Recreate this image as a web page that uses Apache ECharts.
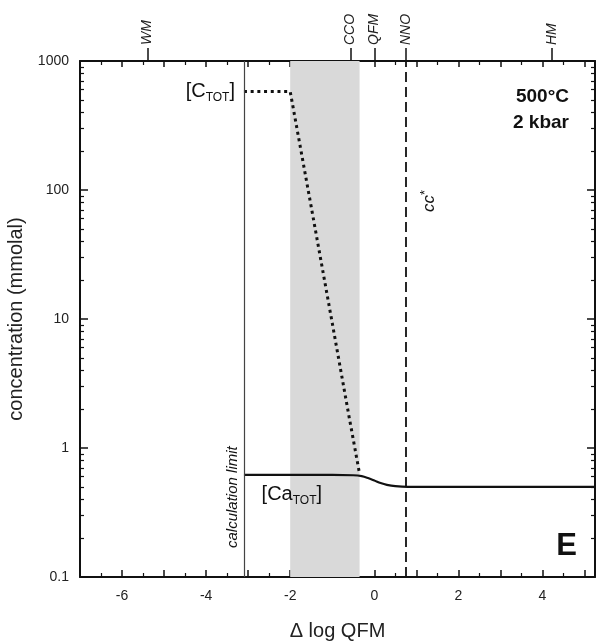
<!DOCTYPE html>
<html>
<head>
<meta charset="utf-8">
<style>
  html, body { margin: 0; padding: 0; background: #fff; }
  #chart { width: 596px; height: 643px; }
</style>
<script src="https://cdn.jsdelivr.net/npm/echarts@6/dist/echarts.min.js"></script>
</head>
<body>
<div id="chart"></div>
<script>
// axis ranges and reference lines (delta log QFM)
var xMin = -7
var xMax = 5.25
var calcLimit = -3.1
var nnoLine = 0.75
var shadeBand = [-2.0, -0.35]

// buffers marked on the top axis
var redoxNames = ['WM', 'CCO', 'QFM', 'NNO', 'HM']
var redoxX = [-5.4, -0.57, 0, 0.75, 4.23]

// log axis minor ticks
var yMinorTicks = [0.2, 0.3, 0.4, 0.5, 0.6, 0.7, 0.8, 0.9,
  2, 3, 4, 5, 6, 7, 8, 9,
  20, 30, 40, 50, 60, 70, 80, 90,
  200, 300, 400, 500, 600, 700, 800, 900]

// [C_TOT] (dotted) and [Ca_TOT] (solid), mmolal
var cTot = [[-3.1, 580], [-2.0, 580], [-1.5, 74], [-1.0, 9.3], [-0.6, 1.75], [-0.45, 0.95], [-0.35, 0.63]]
var caTot = [[-3.1, 0.62], [-1.0, 0.62], [-0.5, 0.615], [-0.3, 0.605], [-0.15, 0.585], [0.0, 0.56],
  [0.15, 0.535], [0.3, 0.518], [0.5, 0.506], [0.8, 0.5], [5.25, 0.5]]

var font = 'Liberation Sans'
var ink = '#111'

var chart = echarts.init(document.getElementById('chart'))

var option = {
  animation: false,
  backgroundColor: '#fff',
  textStyle: { fontFamily: font },
  grid: { left: 80, right: 1, top: 61, bottom: 66, outerBoundsMode: 'none' },
  xAxis: [
    {
      type: 'value', position: 'bottom', min: xMin, max: xMax, interval: 1,
      name: 'Δ log QFM', nameLocation: 'middle', nameGap: 44,
      nameTextStyle: { fontSize: 20, color: '#222' },
      axisLine: { onZero: false, lineStyle: { color: ink, width: 2 } },
      axisTick: { inside: true, length: 7, lineStyle: { color: ink, width: 1.5 } },
      minorTick: { show: true, splitNumber: 2, length: 4, lineStyle: { color: ink, width: 1.2 } },
      axisLabel: {
        fontSize: 14, color: '#222', margin: 12,
        formatter: function (v) { return v % 2 === 0 ? String(v) : '' }
      },
      splitLine: { show: false }
    },
    {
      type: 'value', position: 'top', min: xMin, max: xMax, interval: 1,
      axisLine: { onZero: false, lineStyle: { color: ink, width: 2 } },
      axisTick: { inside: true, length: 6, lineStyle: { color: ink, width: 1.5 } },
      minorTick: { show: true, splitNumber: 2, length: 4, lineStyle: { color: ink, width: 1.2 } },
      axisLabel: { show: false },
      splitLine: { show: false }
    },
    {
      type: 'value', position: 'top', min: xMin, max: xMax,
      axisLine: { show: false, onZero: false },
      axisTick: { customValues: redoxX, inside: false, length: 13, lineStyle: { color: ink, width: 1.5 } },
      axisLabel: {
        customValues: redoxX, rotate: -90, margin: 16, fontSize: 14, fontStyle: 'italic', color: '#222',
        formatter: function (v) {
          var i = redoxX.indexOf(v)
          return i >= 0 ? redoxNames[i] : ''
        }
      },
      splitLine: { show: false }
    }
  ],
  yAxis: [
    {
      type: 'log', logBase: 10, min: 0.1, max: 1000, position: 'left',
      name: 'concentration (mmolal)', nameLocation: 'middle', nameGap: 43,
      nameTextStyle: { fontSize: 20, color: '#222' },
      axisLine: { onZero: false, lineStyle: { color: ink, width: 2 } },
      axisTick: { inside: true, length: 8, lineStyle: { color: ink, width: 1.5 } },
      axisLabel: { fontSize: 14, color: '#222', margin: 11, formatter: function (v) { return String(v) } },
      splitLine: { show: false }
    },
    {
      type: 'log', logBase: 10, min: 0.1, max: 1000, position: 'left',
      axisLine: { show: false, onZero: false },
      axisTick: { customValues: yMinorTicks, inside: true, length: 4, lineStyle: { color: ink, width: 1.2 } },
      axisLabel: { show: false },
      splitLine: { show: false }
    },
    {
      type: 'log', logBase: 10, min: 0.1, max: 1000, position: 'right',
      axisLine: { onZero: false, lineStyle: { color: ink, width: 2 } },
      axisTick: { inside: true, length: 8, lineStyle: { color: ink, width: 1.5 } },
      axisLabel: { show: false },
      splitLine: { show: false }
    },
    {
      type: 'log', logBase: 10, min: 0.1, max: 1000, position: 'right',
      axisLine: { show: false, onZero: false },
      axisTick: { customValues: yMinorTicks, inside: true, length: 4, lineStyle: { color: ink, width: 1.2 } },
      axisLabel: { show: false },
      splitLine: { show: false }
    }
  ],
  series: [
    {
      type: 'line', data: [], z: 1, silent: true,
      markArea: {
        silent: true,
        itemStyle: { color: '#d9d9d9' },
        data: [[{ xAxis: shadeBand[0] }, { xAxis: shadeBand[1] }]]
      },
      markLine: {
        silent: true, symbol: ['none', 'none'], label: { show: false },
        data: [
          { xAxis: calcLimit, lineStyle: { type: 'solid', width: 1.2, color: '#444' } },
          { xAxis: nnoLine, lineStyle: { type: [10, 5], width: 1.8, color: ink } }
        ]
      }
    },
    {
      name: 'C_TOT', type: 'line', data: cTot, z: 3, symbol: 'none', smooth: false,
      lineStyle: { color: ink, width: 3, type: [3, 3.7], cap: 'butt' }
    },
    {
      name: 'Ca_TOT', type: 'line', data: caTot, z: 3, symbol: 'none', smooth: 0.3,
      lineStyle: { color: ink, width: 2.2 }
    }
  ]
}

chart.setOption(option)

function px(x, y) {
  return chart.convertToPixel({ xAxisIndex: 0, yAxisIndex: 0 }, [x, y])
}

var pC = px(calcLimit, cTot[0][1])
var pCa = px(-2.68, caTot[0][1])
var pBottom = px(calcLimit, 0.1)
var pNno = px(nnoLine, 1000)
var subRich = function (size) {
  return {
    m: { fontSize: size, lineHeight: 24, fontFamily: font, fill: ink },
    s: { fontSize: 12, lineHeight: 10, verticalAlign: 'bottom', fontFamily: font, fill: ink }
  }
}

chart.setOption({
  graphic: [
    {
      type: 'text', x: pC[0] - 9, y: pC[1], z: 10,
      style: { text: '{m|[C}{s|TOT}{m|]}', rich: subRich(20), align: 'right', verticalAlign: 'middle' }
    },
    {
      type: 'text', x: pCa[0], y: pCa[1] + 20, z: 10,
      style: { text: '{m|[Ca}{s|TOT}{m|]}', rich: subRich(20), align: 'left', verticalAlign: 'middle' }
    },
    {
      type: 'text', x: pBottom[0] - 11, y: pBottom[1] - 29, rotation: Math.PI / 2, z: 10,
      style: {
        text: 'calculation limit', fontSize: 15, fontStyle: 'italic', fontFamily: font, fill: ink,
        align: 'left', verticalAlign: 'middle'
      }
    },
    {
      type: 'text', x: pNno[0] + 23, y: pNno[1] + 151, rotation: Math.PI / 2, z: 10,
      style: {
        text: '{c|cc}{t|*}', align: 'left', verticalAlign: 'middle',
        rich: {
          c: { fontSize: 17, fontStyle: 'italic', fontFamily: font, fill: ink, lineHeight: 20 },
          t: { fontSize: 13, fontFamily: font, fill: ink, lineHeight: 12, verticalAlign: 'top' }
        }
      }
    },
    {
      type: 'text', x: 569, y: 97, z: 10,
      style: { text: '500°C', fontSize: 19, fontWeight: 'bold', fontFamily: font, fill: ink, align: 'right', verticalAlign: 'middle' }
    },
    {
      type: 'text', x: 569, y: 123, z: 10,
      style: { text: '2 kbar', fontSize: 19, fontWeight: 'bold', fontFamily: font, fill: ink, align: 'right', verticalAlign: 'middle' }
    },
    {
      type: 'text', x: 577, y: 546, z: 10,
      style: { text: 'E', fontSize: 31, fontWeight: 'bold', fontFamily: font, fill: ink, align: 'right', verticalAlign: 'middle' }
    }
  ]
})
</script>
</body>
</html>
